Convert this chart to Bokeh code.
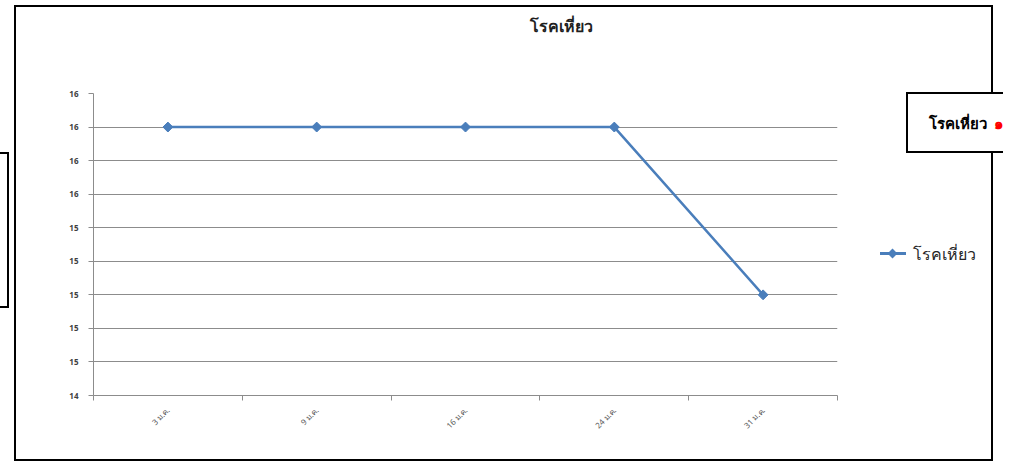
from math import pi
from bokeh.plotting import figure
from bokeh.models import Range1d, FixedTicker, Label, InlineStyleSheet
from bokeh.embed import file_html
from bokeh.resources import INLINE

# ---- data ----
title_text = "โรคเหี่ยว"
series_name = "โรคเหี่ยว"
dates = ["3 ม.ค.", "9 ม.ค.", "16 ม.ค.", "24 ม.ค.", "31 ม.ค."]
values = [16, 16, 16, 16, 15]
y_ticks = [14.4, 14.6, 14.8, 15.0, 15.2, 15.4, 15.6, 15.8, 16.0, 16.2]
y_tick_labels = ["14", "15", "15", "15", "15", "15", "16", "16", "16", "16"]
side_box_text = "โรคเหี่ยว"
side_box_number = "๑๖"

FONT = "Noto Sans"
BLUE = "#4A7EBB"
GRID = "#8C8C8C"

W, H = 1003, 462
p = figure(width=W, height=H, output_backend="svg", toolbar_location=None,
           x_range=Range1d(0, len(dates)), y_range=Range1d(y_ticks[0], y_ticks[-1]),
           min_border_left=93, min_border_right=W - 837, min_border_top=93,
           min_border_bottom=H - 395)
p.outline_line_color = None
p.background_fill_color = "white"
p.border_fill_color = "white"

xs = [i + 0.5 for i in range(len(dates))]

# x axis: labels at category centres, tick marks at category boundaries
p.xaxis.ticker = FixedTicker(ticks=xs, minor_ticks=list(range(len(dates) + 1)))
p.xaxis.major_label_overrides = {x: d for x, d in zip(xs, dates)}
p.xaxis.major_tick_line_color = None
p.xaxis.minor_tick_line_color = GRID
p.xaxis.minor_tick_out = 5
p.xaxis.minor_tick_in = 0
p.xaxis.axis_line_color = GRID
p.xaxis.major_label_orientation = pi / 4
p.xaxis.major_label_text_font = FONT
p.xaxis.major_label_text_font_size = "8px"
p.xaxis.major_label_text_color = "#595959"
p.xaxis.major_label_standoff = 7

p.yaxis.ticker = FixedTicker(ticks=y_ticks)
p.yaxis.major_label_overrides = dict(zip(y_ticks, y_tick_labels))
p.yaxis.major_tick_line_color = GRID
p.yaxis.major_tick_out = 5
p.yaxis.major_tick_in = 0
p.yaxis.minor_tick_line_color = None
p.yaxis.axis_line_color = GRID
p.yaxis.major_label_text_font = FONT
p.yaxis.major_label_text_font_size = "8px"
p.yaxis.major_label_text_font_style = "bold"
p.yaxis.major_label_text_color = "#404040"
p.yaxis.major_label_standoff = 10

p.xgrid.visible = False
p.ygrid.ticker = FixedTicker(ticks=y_ticks)
p.ygrid.grid_line_color = GRID
p.ygrid.grid_line_width = 1

p.line(xs, values, line_color=BLUE, line_width=2.5)
p.scatter(xs, values, marker="square", angle=pi / 4, size=7, fill_color=BLUE, line_color=BLUE)

def canvas_label(x, y, text, **kw):
    return Label(x=x, y=y, x_units="canvas", y_units="canvas", text=text,
                 text_baseline="middle", text_font=FONT, **kw)

# texts outside the plotting frame live in side panels so that they are not clipped
p.add_layout(canvas_label(561, 25, title_text, text_align="center", text_font_size="16px",
                          text_font_style="bold", text_color="#1F1F1F"), "above")
p.add_layout(canvas_label(928, 122, side_box_text, text_align="left", text_font_size="15px",
                          text_font_style="bold", text_color="black"), "above")
p.add_layout(canvas_label(993, 122, side_box_number, text_align="left", text_font_size="15px",
                          text_font_style="bold", text_color="#FF0000"), "above")
# legend entry text (its key is drawn below)
p.add_layout(canvas_label(912, 253, series_name, text_align="left", text_font_size="16px",
                          text_color="#262626"), "below")

# outer chart-area border, boxes and legend key line (decoration drawn as CSS lines)
K = "#000"
lines = [
    (K, "14px 5px", "979px 2px"),     # outer top
    (K, "14px 459px", "979px 2px"),   # outer bottom
    (K, "14px 5px", "2px 456px"),     # outer left
    (K, "991px 5px", "2px 88px"),     # outer right, above the side box
    (K, "991px 151px", "2px 310px"),  # outer right, below the side box
    (K, "906px 92px", "97px 2px"),    # side box top
    (K, "906px 151px", "97px 2px"),   # side box bottom
    (K, "906px 92px", "2px 61px"),    # side box left
    (K, "7px 152px", "2px 156px"),    # left box, right edge
    (K, "0px 152px", "9px 2px"),      # left box, top
    (K, "0px 306px", "9px 2px"),      # left box, bottom
    (BLUE, "880px 252px", "26px 3px"),  # legend key line
]
bg = ",\n    ".join(f"linear-gradient({c}, {c}) {pos} / {size} no-repeat" for c, pos, size in lines)
css = f"""
:host {{ position: relative; }}
:host::before {{
  content: "";
  position: absolute;
  left: 0; top: 0; width: {W}px; height: {H}px;
  pointer-events: none;
  z-index: 1;
  background:
    {bg};
}}
:host::after {{
  content: "";
  position: absolute;
  left: 889px; top: 250px; width: 7px; height: 7px;
  background: {BLUE};
  transform: rotate(45deg);
  pointer-events: none;
  z-index: 2;
}}
"""
p.stylesheets = [InlineStyleSheet(css=css)]

open("out.html", "w").write(file_html(p, INLINE))
